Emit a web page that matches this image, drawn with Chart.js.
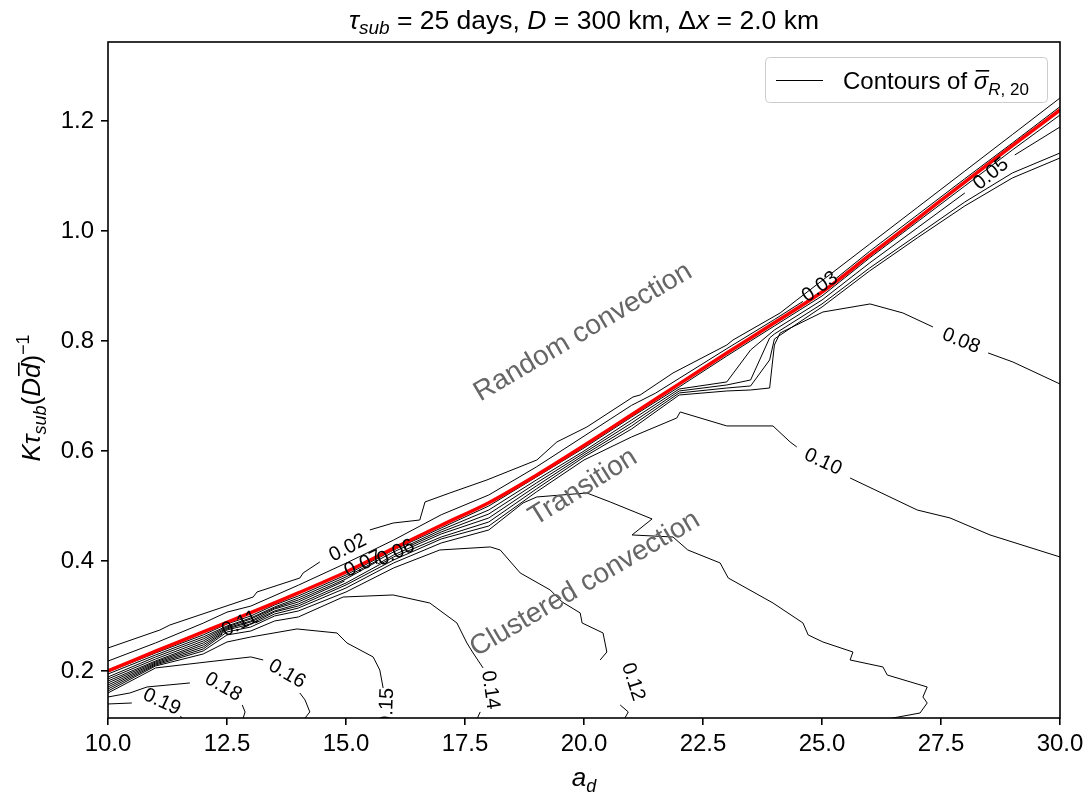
<!DOCTYPE html>
<html>
<head>
<meta charset="utf-8">
<script src="https://cdn.jsdelivr.net/npm/chart.js@4.4.0/dist/chart.umd.min.js"></script>
<style>
  html, body { margin: 0; background: #fff; }
</style>
</head>
<body>
<canvas id="chart" width="1092" height="800"></canvas>
<script>
const FAMILY = "'Liberation Sans', Arial, Helvetica, sans-serif";

// axis ticks
const xTicks = [10, 12.5, 15, 17.5, 20, 22.5, 25, 27.5, 30];
const yTicks = [0.2, 0.4, 0.6, 0.8, 1.0, 1.2];

// red boundary curve
const boundaryX = [10, 11, 12, 13, 14, 15, 16, 17, 18, 19, 20, 21, 22, 23, 24, 25, 26, 27, 28, 29, 30];
const boundaryY = [0.200, 0.236, 0.271, 0.306, 0.342, 0.380, 0.423, 0.465, 0.506, 0.556, 0.610,
                   0.666, 0.722, 0.778, 0.833, 0.889, 0.956, 1.022, 1.089, 1.155, 1.220];

// contour paths of sigma_R,20, [a_d, K] pairs; null marks a break for an inline label
const sig002 = [[10,0.2418],[11.09,0.2745],[11.30,0.2836],[13.05,0.3345],[13.13,0.3436],[14.03,0.369],[14.10,0.3782],[14.45,0.3982],null,
  [15.5,0.4564],[15.99,0.469],[16.55,0.4745],[16.66,0.5073],[17.18,0.5236],[17.96,0.5473],[19.01,0.5836],[19.43,0.6164],[20.06,0.6436],
  [21.03,0.6982],[21.18,0.7018],[21.87,0.7418],[23.0,0.7927],[23.13,0.8018],[24.12,0.8509],[24.47,0.8745],[25,0.9097],[26,0.9761],
  [27,1.0425],[28,1.1089],[29,1.1753],[30,1.2418]];
const sig003 = [[10,0.218],[11,0.251],[12,0.287],[12.5,0.307],[13,0.318],[14,0.356],[15,0.396],[16,0.438],[17,0.484],[18,0.52],
  [19,0.571],[20,0.627],[21,0.683],[21.5,0.705],[22,0.732],[23,0.786],[24,0.839],[24.6,0.872],null,[25.3,0.914],[26,0.963],
  [27,1.029],[28,1.095],[29,1.16],[30,1.226]];
const sig004 = [[10,0.1982],[11,0.2327],[12,0.2655],[12.5,0.2855],[13,0.30],[13.5,0.32],[14,0.3364],[15,0.3745],[16,0.42],[17,0.46],
  [18,0.50],[19,0.5527],[20,0.6055],[21,0.6618],[22,0.7164],[23,0.7727],[23.5,0.80],[24,0.8273],[25,0.8818],[26,0.9509],
  [27,1.0164],[28,1.0818],[29,1.1473],[30,1.2109]];
const sig005 = [[10,0.1945],[11,0.2291],[12,0.2618],[12.5,0.2818],[13,0.2964],[13.5,0.3164],[14,0.3327],[15,0.3709],[16,0.4164],
  [17,0.4564],[18,0.4927],[19,0.5473],[20,0.60],[21,0.6564],[22,0.7127],[23,0.7255],[23.5,0.7836],[24,0.82],[25,0.8745],
  [26,0.9418],[27,1.0055],[28,1.0691],null,[29.05,1.1382],[30,1.1891]];
const sig006 = [[10,0.1891],[11,0.2255],[12,0.2582],[12.5,0.28],[13,0.2945],[13.5,0.3145],[14,0.3291],[15,0.3673],[15.64,0.3982],null,
  [16.34,0.4273],[17,0.4527],[18,0.4855],[19,0.5418],[20,0.5964],[21,0.6509],[22,0.7091],[23,0.72],[23.5,0.7291],[23.9,0.8055],
  [24,0.8127],[25,0.8673],[26,0.9327],[27,0.9927],[28,1.0527],[29,1.1055],[30,1.1418]];
const sig007 = [[10,0.1855],[11,0.2218],[12,0.2545],[12.5,0.2782],[13,0.2909],[13.5,0.3127],[14,0.3255],[14.97,0.3636],null,
  [15.67,0.3945],[16,0.4109],[17,0.4491],[18,0.4782],[19,0.5364],[20,0.5927],[21,0.6455],[22,0.7055],[23,0.7145],[23.5,0.7182],
  [23.9,0.7655],[24,0.8036],[25,0.8618],[26,0.9273],[27,0.9873],[28,1.0455],[29,1.0964],[30,1.1327]];
const sig008 = [[10,0.1818],[11,0.2182],[12,0.2509],[12.5,0.2764],[13,0.2891],[13.5,0.3091],[14,0.3218],[15,0.36],[16,0.4073],
  [17,0.4436],[18,0.4709],[19,0.5309],[20,0.5891],[21,0.64],[22,0.7018],[23,0.7091],[23.5,0.7109],[23.9,0.7145],[24,0.7927],
  [24.12,0.8145],[25.02,0.8527],[26.01,0.8673],[26.7,0.8509],[27.33,0.8255],null,[28.49,0.7782],[29.01,0.7618],[30,0.7218]];
const sig010 = [[10,0.1782],[11,0.2164],[12,0.2473],[12.5,0.2745],[13,0.2855],[13.5,0.3073],[14,0.3182],[15,0.3564],[16,0.4018],
  [17,0.44],[18,0.4636],[19,0.5255],[20,0.5836],[21,0.6255],[21.95,0.66],[22.02,0.6709],[23,0.6455],[23.97,0.6455],[24.33,0.6164],
  [24.47,0.6073],null,[25.59,0.5509],[27,0.4927],[27.69,0.4782],[28.53,0.4473],[30,0.4073]];
const sig011 = [[10,0.1745],[11,0.2145],[12,0.2436],[12.4,0.2673],null,[13.1,0.2873],[13.5,0.3036],[14,0.3145],[15,0.3509],
  [16,0.3964],[17,0.4327],[18,0.4564],[18.72,0.5055],[19.01,0.5164],[20.06,0.5236],[20.55,0.5073],[21.43,0.4764],[21.01,0.4473],
  [21.87,0.4436],[22.18,0.42],[22.86,0.3964],[23.03,0.3691],[23.97,0.3236],[24.6,0.2873],[24.71,0.2655],[25.02,0.2527],
  [25.65,0.2345],[25.59,0.22],[26.28,0.2073],[26.37,0.1927],[27.21,0.1709],[27.12,0.1527],[27.21,0.1418],[27.06,0.1236],
  [26.49,0.1145],[26.2,0.11]];
const sig012 = [[10,0.1709],[11,0.2127],[12,0.24],[12.5,0.2709],[13,0.28],[13.5,0.30],[14,0.3091],[15,0.3436],[16,0.3873],
  [16.97,0.42],[18.03,0.4255],[18.24,0.42],[18.66,0.3782],[19.29,0.3473],[19.54,0.3255],[19.92,0.3055],[19.96,0.2873],
  [20.40,0.2691],[20.48,0.2345],[20.34,0.22],null,[20.76,0.1382],[20.93,0.1255],[20.86,0.1145],[20.85,0.11]];
const sig014 = [[10,0.1673],[11,0.2109],[12,0.2364],[12.5,0.2655],[13,0.2727],[13.5,0.2909],[14,0.2982],[14.94,0.3345],
  [15.99,0.3382],[16.76,0.3236],[17.33,0.2873],[17.54,0.2509],[17.67,0.2327],[17.88,0.2055],null,[17.82,0.1255],[17.76,0.1145],[17.74,0.11]];
const sig015 = [[10,0.1636],[11,0.2091],[12,0.2309],[12.5,0.2527],[13,0.2618],[13.97,0.2764],[14.81,0.2691],[15.02,0.2509],
  [15.57,0.2255],[15.71,0.2018],[15.78,0.1691]];
const sig016 = [[10,0.16],[11,0.2055],[12.08,0.2164],[13.0,0.2255],[13.26,0.22],null,[14.03,0.16],[14.14,0.1473],[14.24,0.1255],
  [14.14,0.1145],[14.12,0.11]];
const sig018 = [[10,0.1527],[10.46,0.16],[10.82,0.1709],[11.72,0.1782],null,[12.82,0.1382],[12.88,0.1255],[12.84,0.1145],[12.84,0.11]];
const sig019 = [[10,0.14],[10.5,0.1418],null,[11.52,0.1182],[11.6,0.11]];

const contourPaths = [sig002, sig003, sig004, sig005, sig006, sig007, sig008, sig010, sig011, sig012, sig014, sig015, sig016, sig018, sig019];

// inline contour labels
const labelText = ['0.02', '0.03', '0.05', '0.06', '0.07', '0.08', '0.10', '0.11', '0.12', '0.14', '0.15', '0.16', '0.18', '0.19'];
const labelPlace = [
  [15.04, 0.4236, -27], [24.96, 0.8982, -35], [28.55, 1.1036, -39], [16.05, 0.4145, -25], [15.36, 0.3945, -25],
  [27.92, 0.80, 22], [25.02, 0.58, 25], [12.77, 0.2855, -25], [21.03, 0.18, 72], [18.03, 0.1655, 82],
  [15.86, 0.134, -88], [13.76, 0.1945, 30], [12.42, 0.1709, 30], [11.13, 0.1436, 25]
];

// regime names
const regionText = ['Random convection', 'Transition', 'Clustered convection'];
const regionPlace = [[19.98, 0.816, -30.5], [19.98, 0.534, -32], [20.02, 0.358, -30.5]];

const toPoints = arr => arr.map(p => p ? { x: p[0], y: p[1] } : { x: null, y: null });

const datasets = contourPaths.map(path => ({
  data: toPoints(path),
  showLine: true,
  borderColor: '#000',
  borderWidth: 1,
  pointRadius: 0,
  spanGaps: false,
  clip: 0,
  order: 2
}));
datasets.push({
  data: boundaryX.map((x, i) => ({ x: x, y: boundaryY[i] })),
  showLine: true,
  borderColor: '#ff0000',
  borderWidth: 3.5,
  pointRadius: 0,
  tension: 0.3,
  clip: 0,
  order: 1
});

const it = s => 'italic ' + s + 'px ' + FAMILY;
const rm = s => s + 'px ' + FAMILY;

// draw a row of differently styled pieces (sub/superscripts, overbars)
function drawRuns(ctx, runs, x, y, align) {
  const widths = runs.map(r => { ctx.font = r.font; return ctx.measureText(r.t).width; });
  const total = widths.reduce((a, b) => a + b, 0);
  let cx = align === 'center' ? x - total / 2 : x;
  runs.forEach((r, i) => {
    ctx.font = r.font;
    ctx.fillText(r.t, cx, y + (r.dy || 0));
    if (r.bar) ctx.fillRect(cx + 2, y - r.bar, widths[i] - 1, 1.6);
    cx += widths[i];
  });
}

const decorations = {
  id: 'decorations',
  afterDatasetsDraw(chart) {
    const { ctx, chartArea: a, scales: { x, y } } = chart;
    ctx.save();
    ctx.beginPath();
    ctx.rect(a.left, a.top, a.right - a.left, a.bottom - a.top);
    ctx.clip();
    ctx.textAlign = 'center';
    ctx.textBaseline = 'middle';

    ctx.fillStyle = '#666666';
    ctx.font = rm(28);
    regionText.forEach((t, i) => {
      const [px, py, ang] = regionPlace[i];
      ctx.save();
      ctx.translate(x.getPixelForValue(px), y.getPixelForValue(py));
      ctx.rotate(ang * Math.PI / 180);
      ctx.fillText(t, 0, 0);
      ctx.restore();
    });

    ctx.fillStyle = '#000';
    ctx.font = rm(20);
    labelText.forEach((t, i) => {
      const [px, py, ang] = labelPlace[i];
      ctx.save();
      ctx.translate(x.getPixelForValue(px), y.getPixelForValue(py));
      ctx.rotate(ang * Math.PI / 180);
      ctx.fillText(t, 0, 0);
      ctx.restore();
    });
    ctx.restore();
  },
  afterDraw(chart) {
    const { ctx, chartArea: a } = chart;
    ctx.save();
    // axes frame
    ctx.strokeStyle = '#000';
    ctx.lineWidth = 1.6;
    ctx.strokeRect(a.left, a.top, a.right - a.left, a.bottom - a.top);

    ctx.fillStyle = '#000';
    ctx.textBaseline = 'alphabetic';
    ctx.textAlign = 'left';
    const cx = (a.left + a.right) / 2;

    // title
    drawRuns(ctx, [
      { t: 'τ', font: it(26.5) }, { t: 'sub', font: it(19), dy: 5 },
      { t: ' = 25 days, ', font: rm(26.5) }, { t: 'D', font: it(26.5) },
      { t: ' = 300 km, ', font: rm(26.5) }, { t: 'Δ', font: rm(26.5) }, { t: 'x', font: it(26.5) },
      { t: ' = 2.0 km', font: rm(26.5) }
    ], cx, 29, 'center');

    // x axis label
    drawRuns(ctx, [{ t: 'a', font: it(26) }, { t: 'd', font: it(18), dy: 6 }], cx, 786, 'center');

    // y axis label
    ctx.save();
    ctx.translate(40, (a.top + a.bottom) / 2 + 18);
    ctx.rotate(-Math.PI / 2);
    drawRuns(ctx, [
      { t: 'K', font: it(26) }, { t: 'τ', font: it(26) }, { t: 'sub', font: it(18), dy: 6 },
      { t: '(', font: rm(26) }, { t: 'D', font: it(26) }, { t: 'd', font: it(26), bar: 22 },
      { t: ')', font: rm(26) }, { t: '−1', font: rm(18), dy: -11 }
    ], 0, 0, 'center');
    ctx.restore();

    // legend
    ctx.beginPath();
    ctx.roundRect(765.5, 57.5, 282, 45, 4);
    ctx.fillStyle = 'rgba(255,255,255,0.8)';
    ctx.fill();
    ctx.strokeStyle = '#cccccc';
    ctx.lineWidth = 1;
    ctx.stroke();
    ctx.beginPath();
    ctx.moveTo(776, 80.5);
    ctx.lineTo(823, 80.5);
    ctx.strokeStyle = '#000';
    ctx.stroke();
    ctx.fillStyle = '#000';
    drawRuns(ctx, [
      { t: 'Contours of ', font: rm(24) }, { t: 'σ', font: it(24), bar: 19 },
      { t: 'R', font: it(17), dy: 6 }, { t: ', 20', font: rm(17), dy: 6 }
    ], 843, 89, 'left');
    ctx.restore();
  }
};

const tickFont = { family: FAMILY, size: 24 };

new Chart(document.getElementById('chart').getContext('2d'), {
  type: 'scatter',
  data: { datasets: datasets },
  options: {
    responsive: false,
    animation: false,
    devicePixelRatio: 1,
    layout: { padding: { top: 42, right: 32, bottom: 0, left: 0 } },
    plugins: { legend: { display: false }, tooltip: { enabled: false } },
    scales: {
      x: {
        type: 'linear',
        min: 10,
        max: 30,
        afterBuildTicks: s => { s.ticks = xTicks.map(v => ({ value: v })); },
        afterFit: s => { s.height = 82; },
        grid: { drawOnChartArea: false, drawTicks: true, tickLength: 7, color: '#000', lineWidth: 1.6 },
        border: { display: false },
        ticks: { font: tickFont, color: '#000', padding: 5, maxRotation: 0, autoSkip: false,
                 callback: v => Number(v).toFixed(1) }
      },
      y: {
        type: 'linear',
        min: 0.1145,
        max: 1.3436,
        afterBuildTicks: s => { s.ticks = yTicks.map(v => ({ value: v })); },
        afterFit: s => { s.width = 108; },
        grid: { drawOnChartArea: false, drawTicks: true, tickLength: 7, color: '#000', lineWidth: 1.6 },
        border: { display: false },
        ticks: { font: tickFont, color: '#000', padding: 7, autoSkip: false,
                 callback: v => Number(v).toFixed(1) }
      }
    }
  },
  plugins: [decorations]
});
</script>
</body>
</html>
